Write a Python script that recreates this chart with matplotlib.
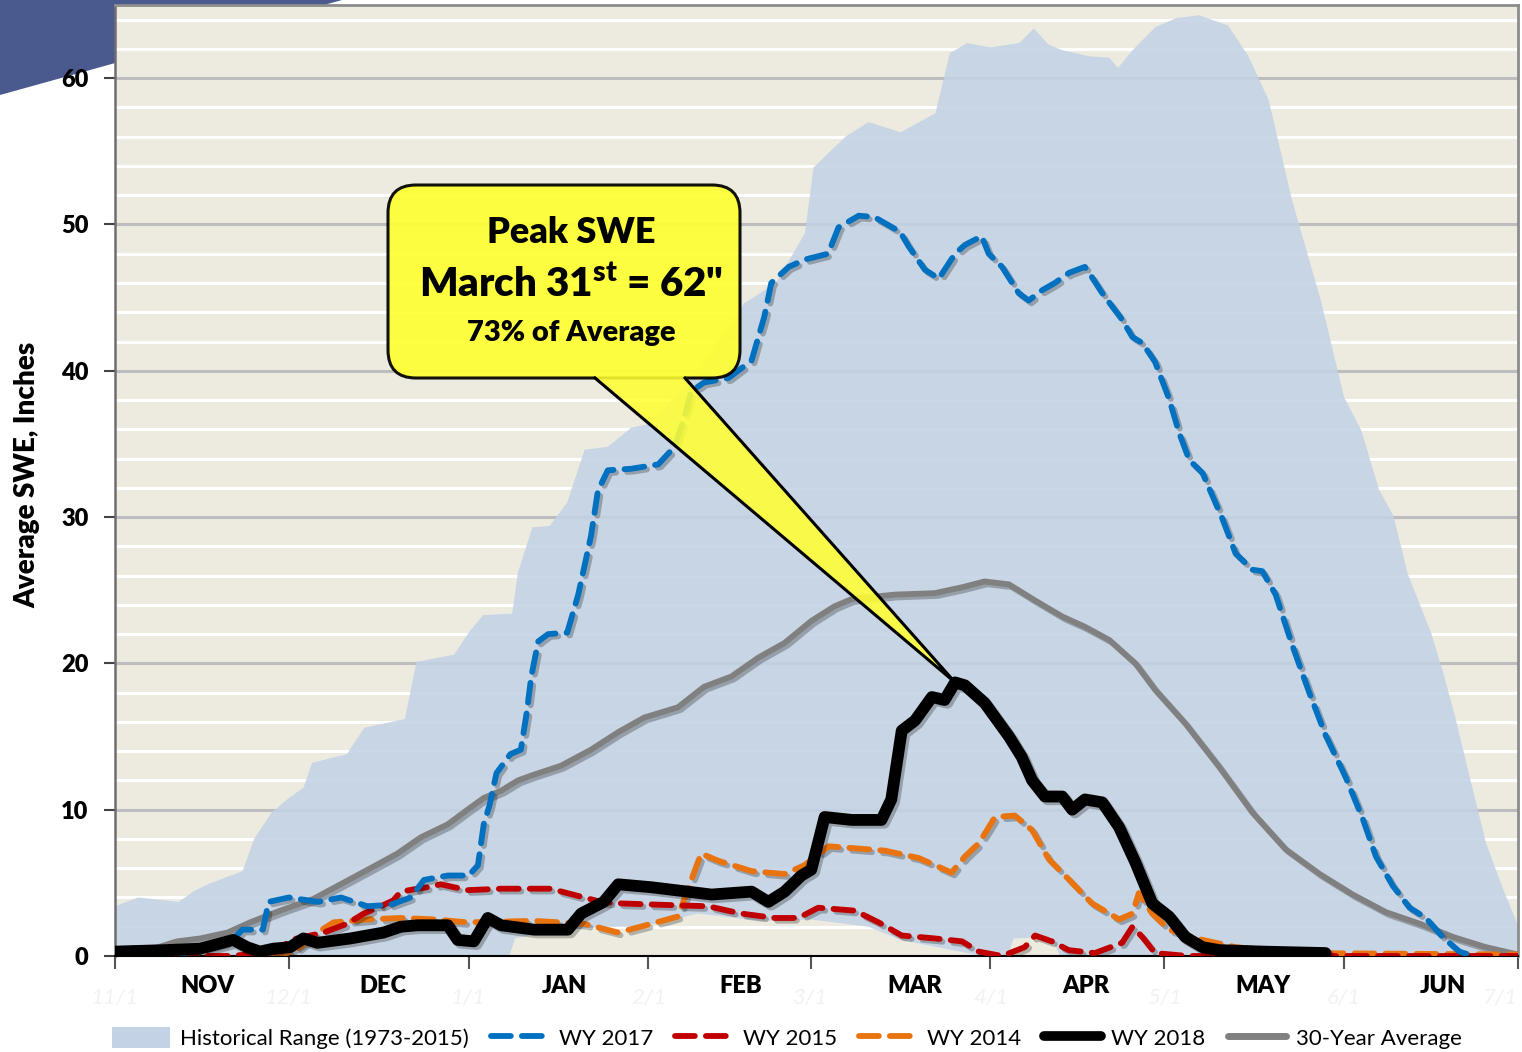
import numpy as np
import matplotlib.pyplot as plt
import matplotlib.patheffects as pe
from matplotlib.patches import Patch, Polygon, FancyBboxPatch
from matplotlib.lines import Line2D

plt.rcParams['font.family'] = ['Lato', 'DejaVu Sans']
plt.rcParams['mathtext.fontset'] = 'custom'
plt.rcParams['mathtext.rm'] = 'Lato'
plt.rcParams['mathtext.bf'] = 'Lato:heavy'

# x = days since Nov 1, y = SWE in inches
month_starts = [0, 30, 61, 92, 120, 151, 181, 212, 242]
date_labels = ['11/1', '12/1', '1/1', '2/1', '3/1', '4/1', '5/1', '6/1', '7/1']
month_names = ['NOV', 'DEC', 'JAN', 'FEB', 'MAR', 'APR', 'MAY', 'JUN']
month_label_pos = [16, 46.3, 77.6, 107.9, 138, 167.5, 198, 229]

hist_hi_x = [0, 4, 11, 13.5, 16, 22, 24, 27, 30, 32.5, 34, 40, 43, 50, 52, 58.5, 61, 63.5,
             68.5, 69.5, 72, 75, 78, 81, 85, 89, 92.5, 100.5, 108.5, 114, 119, 120.5, 126,
             130, 135.5, 141.5, 144, 147, 151, 156, 158.5, 161, 163.5, 168, 171.5, 173,
             175.5, 179.5, 183, 187, 192, 195.5, 199, 203, 208, 212, 215, 218, 220.5, 223,
             227, 229, 231, 234, 236.5, 239.5, 242]
hist_hi_y = [3.4, 4.0, 3.7, 4.4, 4.9, 5.8, 8.0, 9.8, 10.8, 11.5, 13.2, 13.8, 15.6, 16.2, 20.1,
             20.6, 22.1, 23.3, 23.4, 26.2, 29.3, 29.4, 31.0, 34.6, 34.8, 36.1, 36.4, 40.0,
             44.6, 46.0, 49.4, 53.9, 56.0, 57.0, 56.3, 57.6, 61.7, 62.4, 62.1, 62.4, 63.4,
             62.3, 61.9, 61.5, 61.4, 60.7, 61.9, 63.5, 64.1, 64.3, 63.6, 61.5, 58.5, 51.7,
             44.8, 38.2, 35.9, 31.9, 30.1, 26.1, 22.1, 19.5, 16.6, 11.7, 7.7, 4.5, 2.1]
hist_lo_x = [0, 68, 69, 73.5, 84, 91, 100.5, 111.5, 120, 130, 135.5, 147, 149.5, 154, 155,
             161.5, 163, 242]
hist_lo_y = [0, 0, 1.2, 1.6, 2.0, 2.0, 2.9, 2.4, 2.5, 2.0, 1.1, 0.2, 0, 0, 1.2, 1.3, 0, 0]

wy2017_x = [0, 4, 8, 12, 20, 22, 25.5, 26.5, 30, 35, 39, 43.5, 47.5, 51, 53.3, 57.4, 61, 62.6,
            63.6, 64.6, 65.8, 68.2, 70, 71, 71.8, 73, 74.7, 78, 79.9, 82.1, 83.3, 85, 89,
            93.7, 96.5, 98.2, 99.4, 101.6, 105.8, 109.8, 112, 113.2, 116.2, 119, 123, 124.8,
            128.3, 131, 135.4, 136.9, 139.7, 142.1, 144.9, 146.6, 149.5, 150.7, 153, 155.9,
            157.6, 159.9, 162.1, 164.6, 167.3, 168.5, 170.3, 173.7, 175.5, 177.2, 179.4,
            181.8, 183.6, 185.3, 187.6, 191, 193.3, 196.2, 197.9, 200.2, 203.1, 206, 208.8,
            212.3, 215.2, 217.5, 220.4, 223.3, 226.1, 229, 231.9, 234.2]
wy2017_y = [0.2, 0.6, 0.4, 0.2, 1.0, 1.8, 1.8, 3.7, 4.0, 3.7, 4.0, 3.4, 3.5, 4.0, 5.2, 5.5, 5.5,
            6.2, 9.0, 10.3, 12.5, 13.8, 14.1, 16.6, 19.1, 21.5, 22.0, 22.1, 24.7, 28.7, 31.8,
            33.2, 33.3, 33.6, 34.8, 36.8, 38.6, 39.2, 39.5, 40.7, 43.7, 46.0, 47.1, 47.6,
            48.0, 49.8, 50.6, 50.5, 49.5, 48.5, 46.9, 46.3, 48.0, 48.6, 49.2, 48.0, 47.1,
            45.3, 44.8, 45.5, 46.0, 46.7, 47.1, 46.4, 45.3, 43.5, 42.3, 41.9, 40.6, 38.1,
            35.7, 33.9, 33.0, 29.9, 27.5, 26.4, 26.3, 24.7, 21.2, 18.0, 15.1, 12.2, 9.4, 6.8,
            4.8, 3.3, 2.6, 1.3, 0.3, 0.0]

wy2015_x = [0, 20, 28, 30.3, 36, 40, 42.9, 45.3, 48, 49.3, 52.2, 53.9, 56.2, 60.8, 66.6, 75.1,
            80.9, 83.8, 86.8, 94.2, 102.3, 108, 113.8, 117.9, 121.3, 127.6, 131.7, 135.7,
            141.4, 146.1, 149, 153, 156.9, 158.7, 161.6, 164.5, 169, 173.7, 175.5, 177.2,
            179.4, 185, 242]
wy2015_y = [0, 0, 0.3, 1.1, 1.6, 2.2, 2.9, 3.3, 3.8, 4.4, 4.6, 4.7, 4.9, 4.5, 4.6, 4.6, 4.0,
            3.7, 3.6, 3.5, 3.4, 2.9, 2.6, 2.6, 3.3, 3.1, 2.3, 1.4, 1.2, 1.0, 0.3, 0.0, 0.6,
            1.4, 1.0, 0.4, 0.2, 0.9, 2.0, 1.3, 0.2, 0.0, 0.0]

wy2014_x = [0, 28, 31.3, 34.9, 37.7, 43.6, 49.3, 55, 60.8, 72.3, 80.9, 86.8, 92.5, 97.1, 99.4,
            101.1, 104.1, 109.8, 115.5, 118.9, 123.1, 132.8, 138.6, 144.3, 146.6, 149,
            151.8, 155.2, 158.2, 161.1, 164.6, 168.5, 173.2, 175.5, 176.6, 178.9, 181.8,
            187.6, 193.3, 205, 242]
wy2014_y = [0, 0, 0.4, 1.6, 2.3, 2.5, 2.6, 2.5, 2.3, 2.4, 2.2, 1.6, 2.2, 2.7, 5.2, 7.0, 6.5,
            5.8, 5.6, 6.2, 7.5, 7.2, 6.7, 5.7, 6.8, 7.7, 9.5, 9.6, 8.6, 6.6, 5.2, 3.6, 2.5,
            2.9, 4.3, 2.9, 1.8, 1.1, 0.6, 0.2, 0.1]

wy2018_x = [0, 8.5, 14.7, 20.4, 22.8, 25, 27.3, 30.2, 32.5, 34.9, 40.6, 46.3, 49.3, 52.2, 57.4,
            59.1, 61.9, 64.3, 66.6, 72.3, 78.1, 80.4, 84.3, 86.8, 92.5, 102.9, 109.8, 112.7,
            115.5, 118.4, 120.1, 122.4, 127.1, 132.2, 133.9, 135.7, 138, 140.9, 143.1, 144.9,
            146.6, 150, 154.2, 156.4, 158.2, 160.4, 163.4, 165.1, 167.3, 170.3, 173.2, 176,
            178.9, 181.8, 184.6, 187.6, 190.5, 198, 208.8]
wy2018_y = [0.3, 0.4, 0.5, 1.1, 0.6, 0.3, 0.5, 0.6, 1.2, 0.9, 1.2, 1.6, 2.0, 2.1, 2.1, 1.1,
            1.0, 2.6, 2.1, 1.8, 1.8, 2.9, 3.7, 4.9, 4.7, 4.2, 4.4, 3.7, 4.4, 5.5, 5.9, 9.5,
            9.3, 9.3, 10.7, 15.4, 16.1, 17.7, 17.5, 18.7, 18.5, 17.3, 15.0, 13.6, 12.0, 10.9,
            10.9, 10.0, 10.7, 10.5, 8.8, 6.4, 3.6, 2.7, 1.3, 0.6, 0.4, 0.3, 0.2]

avg30_x = [0, 6.6, 10.7, 14.7, 19.4, 23.3, 28.5, 34.2, 38.9, 43.6, 48.7, 52.7, 57.4, 60.8,
           63.6, 66.6, 69.5, 72.3, 76.9, 82.1, 86.8, 91.3, 97.1, 101.6, 106.3, 111, 115.5,
           120.1, 124.1, 127.1, 134.5, 141.4, 146.1, 150, 154.2, 158.7, 163.4, 167.3, 171.5,
           176, 179.4, 184.6, 190.5, 196.2, 201.9, 207.8, 213.5, 219.2, 225.1, 230.8, 236.5,
           242]
avg30_y = [0.4, 0.5, 1.0, 1.2, 1.6, 2.3, 3.1, 3.9, 4.9, 5.9, 7.0, 8.1, 9.0, 10.0, 10.8, 11.3,
           12.0, 12.4, 13.0, 14.1, 15.3, 16.3, 17.0, 18.4, 19.1, 20.4, 21.4, 22.9, 23.9, 24.4,
           24.7, 24.8, 25.2, 25.6, 25.4, 24.3, 23.2, 22.5, 21.6, 20.0, 18.2, 15.9, 12.9, 9.8,
           7.3, 5.6, 4.2, 3.0, 2.2, 1.3, 0.6, 0.1]

band_color = '#C3D2E5'
c2017, c2015, c2014, c2018, cavg = '#0070C0', '#C00000', '#E8730F', 'black', '#808080'
bold = 'heavy'

fig = plt.figure(figsize=(15.22, 10.52), dpi=100)
ax = fig.add_axes([115 / 1522, 1 - 956 / 1052, 1403 / 1522, 951 / 1052])
ax.set_facecolor('#EDEBE0')

# slide decoration in the top-left corner
fig.add_artist(Polygon([(0, 10.52), (3.42, 10.52), (0, 9.57)], closed=True,
                       facecolor='#4A5A8E', edgecolor='none',
                       transform=fig.dpi_scale_trans, zorder=-5))

ax.set_xlim(0, 242)
ax.set_ylim(0, 65)

# gridlines: white every 2, gray every 10
ax.set_yticks(range(0, 61, 10))
ax.set_yticks(range(0, 66, 2), minor=True)
ax.grid(which='minor', axis='y', color='white', lw=2.2, zorder=0)
ax.grid(which='major', axis='y', color='#BDBDBD', lw=2.2, zorder=0)
ax.set_axisbelow(True)

# historical range band
ax.fill(hist_hi_x + hist_lo_x[::-1], hist_hi_y + hist_lo_y[::-1],
        color=band_color, alpha=0.88, lw=0, zorder=1)

shadow = [pe.SimpleLineShadow(offset=(2, -2), shadow_color='black', alpha=0.25), pe.Normal()]
dash = (3.4, 1.9)
lw_d = 4.2

ax.plot(avg30_x, avg30_y, color=cavg, lw=4.2, zorder=3, path_effects=shadow,
        solid_capstyle='round')
ax.plot(wy2014_x, wy2014_y, color=c2014, lw=lw_d, dashes=dash, dash_capstyle='round',
        zorder=4, path_effects=shadow)
ax.plot(wy2015_x, wy2015_y, color=c2015, lw=lw_d, dashes=dash, dash_capstyle='round',
        zorder=4, path_effects=shadow)
ax.plot(wy2017_x, wy2017_y, color=c2017, lw=lw_d, dashes=dash, dash_capstyle='round',
        zorder=5, path_effects=shadow)
ax.plot(wy2018_x, wy2018_y, color=c2018, lw=8.5, zorder=6, path_effects=shadow,
        solid_capstyle='round', solid_joinstyle='round')

# axes styling
for side in ['top', 'right']:
    ax.spines[side].set_color('#8C8C8C')
    ax.spines[side].set_linewidth(2)
ax.spines['left'].set_color('#6E6E6E')
ax.spines['left'].set_linewidth(1.8)
ax.spines['bottom'].set_color('black')
ax.spines['bottom'].set_linewidth(1.5)

ax.set_yticklabels([str(v) for v in range(0, 61, 10)], fontsize=17, fontweight=bold)
ax.tick_params(axis='y', which='major', direction='out', length=8, width=1.5,
               color='#444444', pad=11)
ax.tick_params(axis='y', which='minor', length=0)

ax.set_xticks(month_starts)
ax.set_xticklabels(date_labels, fontsize=16, color='#F2F2F2', style='italic')
ax.get_xticklabels()[-1].set_horizontalalignment('right')
ax.set_xticks(month_label_pos, minor=True)
ax.set_xticklabels(month_names, minor=True, fontsize=17, fontweight=bold)
ax.tick_params(axis='x', which='major', direction='out', length=9, width=1.5,
               color='#555555', pad=14)
ax.tick_params(axis='x', which='minor', length=0, pad=14)

fig.text(0.018, 1 - 475 / 1052, 'Average SWE, Inches', rotation=90, fontsize=20,
         fontweight=bold, ha='center', va='center')

# callout box pointing to the WY 2018 peak
i_peak = int(np.argmax(wy2018_y))
tip = fig.dpi_scale_trans.inverted().transform(
    ax.transData.transform((wy2018_x[i_peak], wy2018_y[i_peak])))
yel = '#FFFF33'
box = FancyBboxPatch((3.88, 6.74), 3.52, 1.93, boxstyle='round,pad=0,rounding_size=0.28',
                     facecolor=yel, edgecolor='black', lw=2.2, alpha=0.93,
                     transform=fig.dpi_scale_trans, zorder=10)
fig.add_artist(box)
fig.add_artist(Polygon([(5.95, 6.76), tuple(tip), (6.85, 6.76)], closed=True,
                       facecolor=yel, edgecolor='none', alpha=0.88,
                       transform=fig.dpi_scale_trans, zorder=11))
fig.add_artist(Line2D([5.95, tip[0], 6.85], [6.74, tip[1], 6.74], color='black', lw=2.2,
                      transform=fig.dpi_scale_trans, zorder=12))
fig.text(5.71, 8.20, 'Peak SWE', transform=fig.dpi_scale_trans, ha='center',
         va='center', fontsize=26, fontweight=bold, zorder=13)
fig.text(5.71, 7.67, r'March 31$^{\mathbf{st}}$ = 62"', transform=fig.dpi_scale_trans,
         ha='center', va='center', fontsize=29, fontweight=bold, zorder=13)
fig.text(5.71, 7.19, '73% of Average', transform=fig.dpi_scale_trans, ha='center',
         va='center', fontsize=21, fontweight=bold, zorder=13)

# legend
handles = [Patch(facecolor=band_color, edgecolor='none'),
           Line2D([], [], color=c2017, lw=lw_d, dashes=dash, dash_capstyle='round'),
           Line2D([], [], color=c2015, lw=lw_d, dashes=dash, dash_capstyle='round'),
           Line2D([], [], color=c2014, lw=lw_d, dashes=dash, dash_capstyle='round'),
           Line2D([], [], color=c2018, lw=7, solid_capstyle='round'),
           Line2D([], [], color=cavg, lw=5, solid_capstyle='round')]
labels = ['Historical Range (1973-2015)', 'WY 2017', 'WY 2015', 'WY 2014', 'WY 2018',
          '30-Year Average']
fig.legend(handles, labels, loc='center', bbox_to_anchor=(0.517, 0.0133), ncol=6,
           frameon=False, fontsize=16, handlelength=2.6, handletextpad=0.45,
           columnspacing=1.0, handleheight=1.1)

fig.savefig('out.png', dpi=100)
